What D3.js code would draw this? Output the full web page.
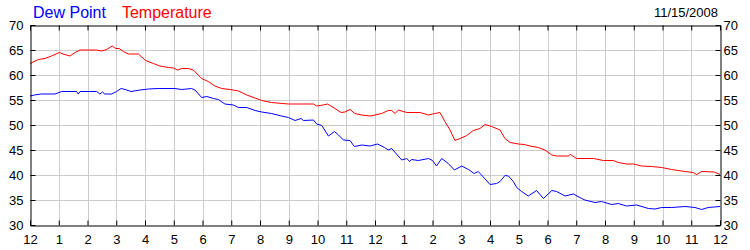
<!DOCTYPE html>
<html>
<head>
<meta charset="utf-8">
<script src="https://cdn.jsdelivr.net/npm/d3@7"></script>
<style>
  html, body { margin: 0; padding: 0; background: #fff; }
  svg { display: block; }
  text { font-family: "Liberation Sans", Arial, sans-serif; }
</style>
</head>
<body>
<svg id="chart" width="750" height="250"></svg>
<script>
// ---- data ----
const hourTicks = d3.range(0, 25);
const hourLabels = ["12","1","2","3","4","5","6","7","8","9","10","11",
                    "12","1","2","3","4","5","6","7","8","9","10","11","12"];
const valueTicks = [30, 35, 40, 45, 50, 55, 60, 65, 70];
const seriesNames = ["Dew Point", "Temperature"];
const dateLabel = "11/15/2008";

const tempHours = [0,0.29,0.52,0.75,1.02,1.15,1.39,1.57,1.74,2.03,2.32,2.49,2.67,2.86,2.98,3.1,3.25,3.42,3.77,4.02,4.29,4.52,4.81,4.99,5.14,5.28,5.51,5.68,5.97,6.2,6.43,6.67,6.96,7.25,7.54,7.83,8.06,8.4,8.99,9.86,9.97,10.2,10.35,10.61,10.82,10.95,11.13,11.3,11.54,11.83,12.0,12.23,12.46,12.58,12.7,12.81,13.1,13.57,13.86,14.0,14.26,14.43,14.61,14.78,14.96,15.19,15.42,15.65,15.83,16.06,16.35,16.52,16.7,16.99,17.2,17.39,17.68,17.91,18.15,18.32,18.72,18.8,19.01,19.6,19.94,20.29,20.46,20.75,21.0,21.27,21.62,21.97,22.32,22.78,23.07,23.19,23.36,23.8,24];
const tempValues = [62.3,63.1,63.3,63.8,64.5,64.2,63.8,64.5,65,65,65,64.8,65.1,65.8,65.3,65.3,64.7,64.2,64.2,62.9,62.3,61.8,61.5,61.4,61.0,61.3,61.3,61.0,59.3,58.7,57.8,57.3,57.1,56.8,56.0,55.4,54.9,54.5,54.2,54.2,53.8,54.0,54.2,53.3,52.5,52.6,53.1,52.3,52.0,51.8,52.0,52.3,52.9,52.9,52.3,53.0,52.5,52.5,52.0,52.2,52.5,50.7,49.0,46.9,47.3,47.9,48.9,49.3,50.1,49.7,49.0,47.3,46.5,46.2,46.1,45.8,45.5,45.0,44.0,43.8,43.8,44.1,43.3,43.3,42.9,42.9,42.5,42.2,42.2,41.8,41.7,41.5,41.1,40.7,40.5,40.1,40.7,40.6,40.1];

const dewHours = [0,0.15,0.4,0.87,1.1,1.62,1.68,1.74,2.32,2.43,2.52,2.6,2.84,3.01,3.17,3.31,3.51,3.83,4.12,4.46,5.04,5.28,5.62,5.74,5.97,6.15,6.38,6.55,6.78,7.07,7.25,7.54,7.83,8.06,8.4,8.75,8.99,9.22,9.43,9.51,9.86,9.97,10.15,10.38,10.59,10.73,10.9,11.13,11.28,11.54,11.83,12.09,12.33,12.46,12.58,12.93,13.1,13.21,13.27,13.51,13.86,14.0,14.14,14.32,14.55,14.76,15.02,15.25,15.45,15.59,15.83,16.0,16.23,16.35,16.52,16.64,16.81,16.93,17.1,17.33,17.62,17.86,18.15,18.32,18.61,18.9,19.19,19.3,19.65,19.88,20.23,20.46,20.75,21.1,21.51,21.74,21.97,22.32,22.78,23.13,23.36,23.59,24];
const dewValues = [55.8,56.0,56.2,56.2,56.7,56.7,56.2,56.7,56.7,56.2,56.6,56.2,56.2,56.7,57.3,57.1,56.7,57.0,57.2,57.3,57.3,57.1,57.3,57.0,55.5,55.7,55.3,55.1,54.2,54.0,53.5,53.5,52.9,52.6,52.3,51.8,51.5,50.9,51.3,50.9,51.0,50.2,49.9,47.8,48.7,48.0,47.0,46.9,45.7,46.0,45.8,46.2,45.5,45.0,45.3,43.0,43.3,42.7,43.1,42.9,43.3,42.9,41.8,43.3,42.3,41.0,41.8,41.1,40.3,40.7,39.2,38.1,38.3,38.7,39.9,39.8,38.7,37.5,36.7,35.8,36.9,35.3,36.9,36.7,35.8,36.2,35.3,35.0,34.5,34.7,34.1,34.3,33.8,34.0,33.3,33.2,33.5,33.5,33.7,33.5,33.1,33.5,33.7];

// ---- layout ----
const svg = d3.select("#chart");
const L = 30, R = 720, T = 25, B = 225;
const x = d3.scaleLinear().domain([0, 24]).range([L, R]);
const y = d3.scaleLinear().domain([30, 70]).range([B, T]);
const px = v => Math.round(v) + 0.5;

// gridlines
const grid = svg.append("g").attr("stroke", "#cccccc").attr("stroke-width", 1);
grid.selectAll("line.v").data(hourTicks.slice(1, -1)).join("line")
  .attr("x1", d => px(x(d))).attr("x2", d => px(x(d)))
  .attr("y1", T).attr("y2", B);
grid.selectAll("line.h").data(valueTicks.slice(1, -1)).join("line")
  .attr("x1", L).attr("x2", R)
  .attr("y1", d => px(y(d))).attr("y2", d => px(y(d)));

// series lines
const line = d3.line().x(d => x(d[0])).y(d => y(d[1]));
const tempPts = d3.zip(tempHours, tempValues);
const dewPts = d3.zip(dewHours, dewValues);
svg.append("path").datum(tempPts).attr("d", line)
  .attr("fill", "none").attr("stroke", "#ff0000").attr("stroke-width", 1);
svg.append("path").datum(dewPts).attr("d", line)
  .attr("fill", "none").attr("stroke", "#0000ff").attr("stroke-width", 1);

// axes
function styleAxis(g) {
  g.selectAll("path").attr("stroke", "#000");
  g.selectAll("line").attr("stroke", "#000");
  g.selectAll("text").attr("fill", "#000").style("font-size", "13px")
    .style("font-family", '"Liberation Sans", Arial, sans-serif');
}
svg.append("g").attr("transform", `translate(0,${B + 0.5})`)
  .call(d3.axisBottom(x).tickValues(hourTicks).tickFormat((d, i) => hourLabels[i])
    .tickSizeInner(-5).tickSizeOuter(0).tickPadding(9))
  .call(styleAxis).call(g => g.attr("font-family", null).attr("font-size", null));
svg.append("g").attr("transform", `translate(0,${T + 0.5})`)
  .call(d3.axisTop(x).tickValues(hourTicks).tickFormat("")
    .tickSizeInner(-5).tickSizeOuter(0))
  .call(styleAxis);
svg.append("g").attr("transform", `translate(${L + 0.5},0)`)
  .call(d3.axisLeft(y).tickValues(valueTicks)
    .tickSizeInner(-5).tickSizeOuter(0).tickPadding(7))
  .call(styleAxis);
svg.append("g").attr("transform", `translate(${R + 0.5},0)`)
  .call(d3.axisRight(y).tickValues(valueTicks)
    .tickSizeInner(-5).tickSizeOuter(0).tickPadding(3))
  .call(styleAxis);

// legend
const legend = svg.append("text").attr("x", 33).attr("y", 18).style("font-size", "16px");
legend.append("tspan").attr("fill", "#0000ff").text(seriesNames[0]);
legend.append("tspan").attr("fill", "#ff0000").attr("dx", 16).text(seriesNames[1]);

// date
svg.append("text").attr("x", 718).attr("y", 17).attr("text-anchor", "end")
  .attr("fill", "#000").style("font-size", "13px").text(dateLabel);
</script>
</body>
</html>
